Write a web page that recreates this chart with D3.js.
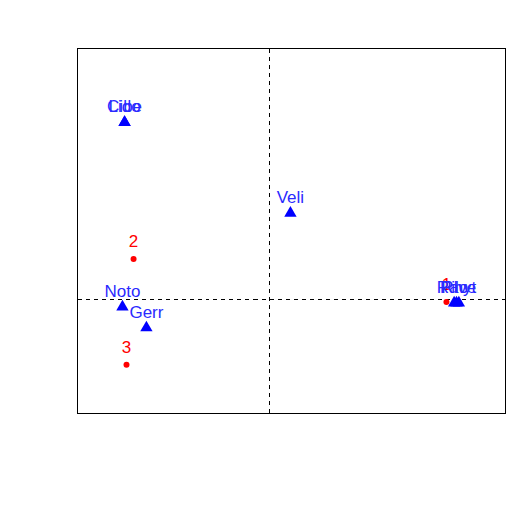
<!DOCTYPE html>
<html><head><meta charset="utf-8">
<script src="https://cdn.jsdelivr.net/npm/d3@7"></script>
<style>body{margin:0;background:#fff}</style>
</head><body>
<script>
const siteNames = ["1", "2", "3"];
const siteX = [0.829, -0.633, -0.666];
const siteY = [-0.015, 0.191, -0.316];
const speciesNames = ["Cibe", "Lido", "Veli", "Noto", "Gerr", "Rave", "Pilo", "Rhyt"];
const speciesX = [-0.675, -0.675, 0.100, -0.685, -0.573, 0.876, 0.865, 0.887];
const speciesY = [0.846, 0.846, 0.411, -0.039, -0.139, -0.020, -0.020, -0.020];

const W = 509, H = 509;
const box = {l: 77.5, r: 505.5, t: 48.5, b: 413.5};
const svg = d3.select("body").append("svg").attr("width", W).attr("height", H);
const x = d3.scaleLinear().domain([-0.895, 1.105]).range([box.l, box.r]);
const y = d3.scaleLinear().domain([-0.55, 1.2]).range([box.b, box.t]);
const cx0 = Math.floor(x(0)) + 0.5, cy0 = Math.round(y(0)) + 0.5;

svg.append("line").attr("x1", cx0).attr("x2", cx0).attr("y1", box.t).attr("y2", box.b)
  .attr("stroke", "#000").attr("stroke-dasharray", "4,4").attr("shape-rendering", "crispEdges");
svg.append("line").attr("x1", box.l).attr("x2", box.r).attr("y1", cy0).attr("y2", cy0)
  .attr("stroke", "#000").attr("stroke-dasharray", "4,4").attr("shape-rendering", "crispEdges");
svg.append("rect").attr("x", box.l).attr("y", box.t).attr("width", box.r - box.l).attr("height", box.b - box.t)
  .attr("fill", "none").attr("stroke", "#000").attr("stroke-width", 1).attr("shape-rendering", "crispEdges");

const font = "Liberation Sans, Arial, sans-serif";
const sites = siteNames.map((n, i) => ({n, x: siteX[i], y: siteY[i]}));
const species = speciesNames.map((n, i) => ({n, x: speciesX[i], y: speciesY[i]}));

svg.selectAll(".site").data(sites).enter().append("circle")
  .attr("cx", d => x(d.x)).attr("cy", d => y(d.y)).attr("r", 3).attr("fill", "#ff0000");
svg.selectAll(".sitelab").data(sites).enter().append("text")
  .attr("x", d => x(d.x)).attr("y", d => y(d.y) - 12).attr("text-anchor", "middle")
  .attr("font-family", font).attr("font-size", 17).attr("fill", "#ff0000").text(d => d.n);

const tri = d3.symbol(d3.symbolTriangle).size(66);
svg.selectAll(".sp").data(species).enter().append("path")
  .attr("d", tri).attr("transform", d => `translate(${x(d.x)},${y(d.y)})`).attr("fill", "#0000ff");
svg.selectAll(".splab").data(species).enter().append("text")
  .attr("x", d => x(d.x)).attr("y", d => y(d.y) - 10).attr("text-anchor", "middle")
  .attr("font-family", font).attr("font-size", 17).attr("fill", "#2a2aff").text(d => d.n);
</script>
</body></html>
